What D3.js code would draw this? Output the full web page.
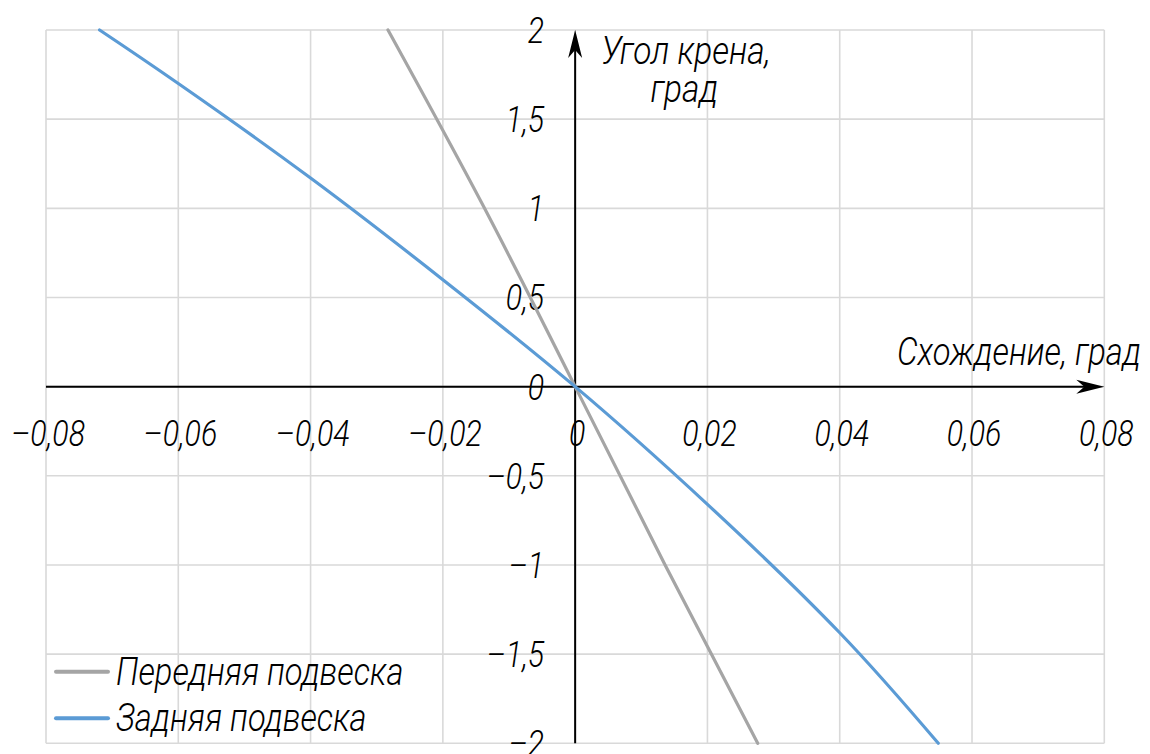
<!DOCTYPE html>
<html lang="ru">
<head>
<meta charset="utf-8">
<script src="https://cdn.jsdelivr.net/npm/d3@7"></script>
<style>
  html, body { margin: 0; padding: 0; background: #fff; }
  svg { display: block; }
  .lbl { font-family: Roboto, "Liberation Sans Narrow", sans-serif; font-style: italic; font-weight: 300; fill: #000; }
</style>
</head>
<body>
<svg id="chart" width="1150" height="754"></svg>
<script>
// Toe change (deg) vs. roll angle (deg) for front and rear suspension
const frontToe  = [-0.0283, -0.0137, 0, 0.0136, 0.0276];
const frontRoll = [2, 1, 0, -1, -2];

const rearToe  = [-0.0719, -0.06, -0.04, -0.02, 0, 0.02, 0.04, 0.0549];
const rearRoll = [2, 1.70, 1.17, 0.60, 0, -0.66, -1.38, -2];

const seriesNames = ["Передняя подвеска", "Задняя подвеска"];
const seriesColors = ["#a5a5a5", "#5b9bd5"];

const xTicks = [-0.08, -0.06, -0.04, -0.02, 0, 0.02, 0.04, 0.06, 0.08];
const yTicks = [-2, -1.5, -1, -0.5, 0, 0.5, 1, 1.5, 2];
const xTickLabels = ["–0,08", "–0,06", "–0,04", "–0,02", "0", "0,02", "0,04", "0,06", "0,08"];
const yTickLabels = ["–2", "–1,5", "–1", "–0,5", "0", "0,5", "1", "1,5", "2"];

const xTitle = "Схождение, град";
const yTitleLines = ["Угол крена,", "град"];

const svg = d3.select("#chart");
const x = d3.scaleLinear().domain([-0.08, 0.08]).range([46, 1104.3]);
const y = d3.scaleLinear().domain([-2, 2]).range([743.3, 30]);

function label(g, px, py, str, anchor, sx, fs) {
  return g.append("text")
    .attr("class", "lbl")
    .attr("transform", `translate(${px},${py}) scale(${sx},1)`)
    .attr("text-anchor", anchor || "start")
    .attr("font-size", fs)
    .text(str);
}

// grid
const grid = svg.append("g").attr("stroke", "#d9d9d9").attr("stroke-width", 1.6);
grid.selectAll("line.v").data(xTicks).join("line")
  .attr("x1", d => x(d)).attr("x2", d => x(d))
  .attr("y1", y(2)).attr("y2", y(-2));
grid.selectAll("line.h").data(yTicks).join("line")
  .attr("x1", x(-0.08)).attr("x2", x(0.08))
  .attr("y1", d => y(d)).attr("y2", d => y(d));

// axes through the origin, with arrowheads
const axes = svg.append("g");
axes.append("line").attr("x1", x(-0.08)).attr("x2", x(0.08) - 8)
  .attr("y1", y(0)).attr("y2", y(0)).attr("stroke", "#000").attr("stroke-width", 2);
axes.append("line").attr("x1", x(0)).attr("x2", x(0))
  .attr("y1", y(-2)).attr("y2", y(2) + 8).attr("stroke", "#000").attr("stroke-width", 2);
const xt = x(0.08), yt = y(0);
axes.append("path").attr("fill", "#000")
  .attr("d", `M${xt},${yt} L${xt - 28},${yt - 7} L${xt - 20},${yt} L${xt - 28},${yt + 7} Z`);
const ax = x(0), ay = y(2);
axes.append("path").attr("fill", "#000")
  .attr("d", `M${ax},${ay} L${ax - 7},${ay + 28} L${ax},${ay + 20} L${ax + 7},${ay + 28} Z`);

// tick labels
const tl = svg.append("g");
xTicks.forEach((t, i) => label(tl, x(t) + 2, y(0) + 59, xTickLabels[i], "middle", 0.82, 37));
yTicks.forEach((t, i) => label(tl, x(0) - 31, y(t) + 13, yTickLabels[i], "end", 0.82, 37));

// axis titles
label(svg, 1141, 365, xTitle, "end", 0.86, 38);
const yTitle = svg.append("text")
  .attr("class", "lbl")
  .attr("transform", `translate(686,64) scale(0.88,1)`)
  .attr("text-anchor", "middle")
  .attr("font-size", 38);
yTitle.append("tspan").attr("x", 0).attr("y", 0).text(yTitleLines[0]);
yTitle.append("tspan").attr("x", -2).attr("y", 38).text(yTitleLines[1]);

// series
const line = d3.line().x(d => x(d[0])).y(d => y(d[1])).curve(d3.curveNatural);
const series = [
  d3.zip(frontToe, frontRoll),
  d3.zip(rearToe, rearRoll)
];
svg.append("g").selectAll("path").data(series).join("path")
  .attr("d", line)
  .attr("fill", "none")
  .attr("stroke", (d, i) => seriesColors[i])
  .attr("stroke-width", 3.2)
  .attr("stroke-linecap", "round");

// legend
const lg = svg.append("g");
seriesNames.forEach((name, i) => {
  const ly = 671.7 + i * 46.6;
  lg.append("line").attr("x1", 56).attr("x2", 108).attr("y1", ly).attr("y2", ly)
    .attr("stroke", seriesColors[i]).attr("stroke-width", 4).attr("stroke-linecap", "round");
  label(lg, 116, ly + 13, name, "start", 0.86, 38);
});
</script>
</body>
</html>
